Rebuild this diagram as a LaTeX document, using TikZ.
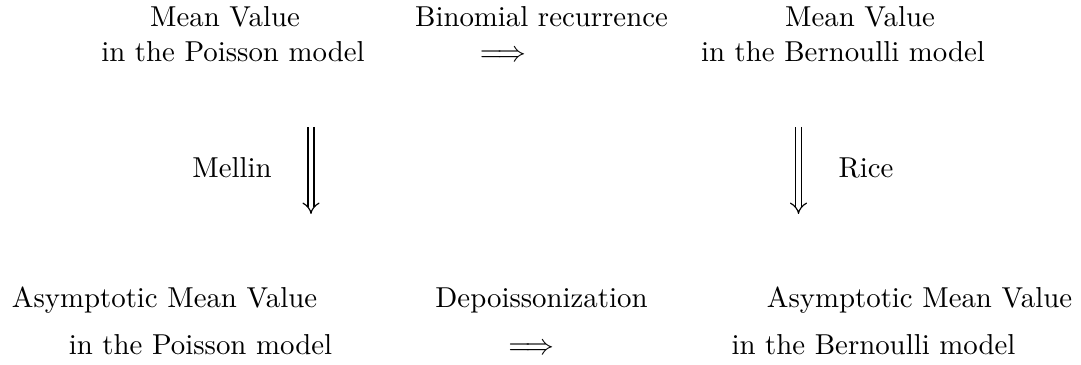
\documentclass[tikz,border=0pt]{standalone}
\usepackage{amsmath}
\usepackage{amssymb}
\usetikzlibrary{arrows.meta}

\begin{document}
\begin{tikzpicture}[x=0.347pt, y=-0.347pt,
    lbl/.style={inner sep=0pt, anchor=base},
    imp/.style={double, double distance=1.7pt, line width=0.4pt, -{Implies[scale=1.3]}}]
    \useasboundingbox (0,0) rectangle (1081,365);
    % top row
    \node[lbl] (pmA) at (225,27) {Mean Value};
    \node[lbl] (pmB) at (233,62) {in the Poisson model};
    \node[lbl] (bin) at (541.5,27) {Binomial recurrence};
    \node[lbl] (binA) at (503,62) {$\Longrightarrow$};
    \node[lbl] (bmA) at (860,27) {Mean Value};
    \node[lbl] (bmB) at (843,62) {in the Bernoulli model};
    % vertical arrows
    \coordinate (mtop) at (311,127);
    \coordinate (mbot) at (311,214);
    \coordinate (rtop) at (798.5,127);
    \coordinate (rbot) at (798.5,214);
    \draw[imp] (mtop) -- (mbot);
    \draw[imp] (rtop) -- (rbot);
    \node[lbl] (mel) at (232,178) {Mellin};
    \node[lbl] (ric) at (866,178) {Rice};
    % bottom row
    \node[lbl] (apA) at (164.5,308) {Asymptotic Mean Value};
    \node[lbl] (apB) at (200.5,355) {in the Poisson model};
    \node[lbl] (dep) at (541.5,308) {Depoissonization};
    \node[lbl] (depA) at (531.5,355) {$\Longrightarrow$};
    \node[lbl] (abA) at (919.5,308) {Asymptotic Mean Value};
    \node[lbl] (abB) at (873.5,355) {in the Bernoulli model};
\end{tikzpicture}
\end{document}
